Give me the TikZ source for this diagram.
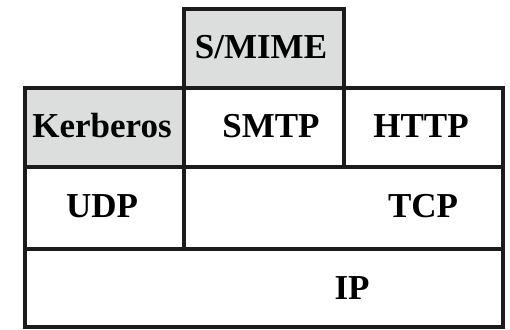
\documentclass[tikz,border=0pt]{standalone}
\usepackage{fontspec}
\setmainfont{Liberation Serif}
\definecolor{cellgray}{HTML}{DCDEDE}
\definecolor{rule}{HTML}{1C1C1C}
\begin{document}
\begin{tikzpicture}[x=1pt,y=-1pt,
  cell/.style={draw=rule, line width=4pt, inner sep=0pt, outer sep=0pt, anchor=north west},
  shaded/.style={cell, fill=cellgray},
  lbl/.style={anchor=base, inner sep=0pt, font=\fontsize{35}{40}\selectfont\bfseries}]
\useasboundingbox (0,0) rectangle (510,329);
% protocol stack cells
\node[shaded, minimum width=160pt, minimum height=79pt] (smime) at (184,9) {};
\node[shaded, minimum width=159pt, minimum height=79pt] (kerberos) at (25,88) {};
\node[cell, minimum width=160pt, minimum height=79pt] (smtp) at (184,88) {};
\node[cell, minimum width=159pt, minimum height=79pt] (http) at (344,88) {};
\node[cell, minimum width=159pt, minimum height=82pt] (udp) at (25,167) {};
\node[cell, minimum width=319pt, minimum height=82pt] (tcp) at (184,167) {};
\node[cell, minimum width=478pt, minimum height=78pt] (ip) at (25,249) {};
% labels
\node[lbl] (smimetext) at (261,59) {S/MIME};
\node[lbl] (kerberostext) at (102,137) {Kerberos};
\node[lbl] (smtptext) at (271,137) {SMTP};
\node[lbl] (httptext) at (421,137) {HTTP};
\node[lbl] (udptext) at (102,217) {UDP};
\node[lbl] (tcptext) at (423,217) {TCP};
\node[lbl] (iptext) at (352,299) {IP};
\end{tikzpicture}
\end{document}
